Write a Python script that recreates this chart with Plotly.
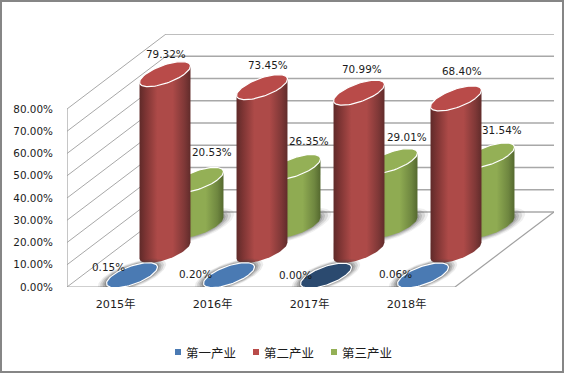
import numpy as np
import plotly.graph_objects as go

categories = ["2015年", "2016年", "2017年", "2018年"]
series_names = ["第一产业", "第二产业", "第三产业"]
primary = [0.15, 0.20, 0.00, 0.06]
secondary = [79.32, 73.45, 70.99, 68.40]
tertiary = [20.53, 26.35, 29.01, 31.54]
y_ticks = [0, 10, 20, 30, 40, 50, 60, 70, 80]
y_tick_labels = ["0.00%", "10.00%", "20.00%", "30.00%", "40.00%", "50.00%", "60.00%", "70.00%", "80.00%"]

W, H = 564, 373
L, R, T, B = 67, 10, 34, 86
PX_X, PX_Y = 97.0, 2.225          # pixels per category / per percent
DX, DY = 99 / PX_X, 75 / PX_Y     # oblique shift of the full depth
RX, RD = 0.2, 1 / 6               # disc radius along x and along depth
BASE = -0.5
FONT = "DejaVu Sans, Noto Sans CJK SC"
TXT = "#1c1c1c"


def proj(c, d, v):
    return c + d * DX, v + d * DY


def disc(cat, depth, v, s=1.0, t=None):
    t = np.linspace(0, 2 * np.pi, 90) if t is None else t
    x = cat + 0.5 + s * RX * np.cos(t) + (depth + s * RD * np.sin(t)) * DX
    y = v + BASE + (depth + s * RD * np.sin(t)) * DY
    return x, y


fig = go.Figure()


def poly(x, y, **kw):
    fig.add_trace(go.Scatter(x=list(x), y=list(y), mode="lines", fill="toself", hoverinfo="skip",
                             showlegend=False, cliponaxis=False, **kw))


def seg(pairs, color, width):
    xs, ys = [], []
    for a, b in pairs:
        xs += [a[0], b[0], None]
        ys += [a[1], b[1], None]
    fig.add_trace(go.Scatter(x=xs, y=ys, mode="lines", line=dict(color=color, width=width), hoverinfo="skip",
                             showlegend=False, cliponaxis=False))


# walls and floor
n = len(categories)
top = y_ticks[-1]
seg([(proj(n, 1, v), proj(0, 1, v)) for v in y_ticks], "#a8a8a8", 1.7)
seg([(proj(0, 0, v), proj(0, 1, v)) for v in y_ticks], "#a8a8a8", 1)
seg([(proj(0, 0, 0), proj(0, 0, top)), (proj(0, 0, 0), proj(n, 0, 0)), (proj(n, 0, 0), proj(n, 1, 0))], "#a0a0a0", 1.2)


def cylinder(cat, depth, v, cscale, top_color):
    phi = np.arctan2(RD * DX, RX)   # angle of the silhouette
    arc = np.linspace(phi + np.pi, phi + 2 * np.pi, 50)
    bx, by = disc(cat, depth, 0, t=arc)
    tx, ty = disc(cat, depth, v, t=np.array([phi, phi + np.pi]))
    x = np.concatenate([bx, tx])
    y = np.concatenate([by, ty])
    poly(x, y, line=dict(width=0, color="rgba(0,0,0,0)"),
         fillgradient=dict(type="horizontal", colorscale=cscale))
    ex, ey = disc(cat, depth, v)
    poly(ex, ey, fillcolor=top_color, line=dict(color="white", width=1.2))


RED_SCALE = [[0, "#5f2a29"], [0.12, "#7c3433"], [0.35, "#ad4a48"], [0.65, "#ad4a48"], [0.88, "#7f3837"], [1, "#612c2b"]]
GREEN_SCALE = [[0, "#5f7536"], [0.15, "#75903f"], [0.4, "#8fab52"], [0.65, "#8fab52"], [0.88, "#6f8740"], [1, "#55692f"]]

# back to front: third, second, first series
for i, v in enumerate(tertiary):
    for s, a in [(1.42, 0.08), (1.3, 0.14), (1.18, 0.18), (1.08, 0.22)]:
        hx, hy = disc(i, 5 / 6, 0, s=s)
        poly(hx, hy, fillcolor=f"rgba(70,70,70,{a})", line=dict(width=0))
    cylinder(i, 5 / 6, v, GREEN_SCALE, "#94b056")
for i, v in enumerate(secondary):
    cylinder(i, 1 / 2, v, RED_SCALE, "#b94b49")
for i, v in enumerate(primary):
    for s, a in [(1.34, 0.1), (1.25, 0.16), (1.16, 0.22), (1.08, 0.3)]:
        hx, hy = disc(i, 1 / 6, v, s=s)
        poly(hx, hy, fillcolor=f"rgba(70,70,70,{a})", line=dict(width=0))
    ex, ey = disc(i, 1 / 6, v)
    poly(ex, ey, fillcolor="#4a7ab3" if v > 0 else "#2b4a6f", line=dict(color="white", width=1.2))

# data labels
nudges = {
    0: [(-24, 8), (-34, 1), (-31, 1), (-28, 1)],
    1: [(1, 20), (6, 22), (3, 24), (6, 27)],
    2: [(14, 28), (14, 26), (15, 24), (13, 25)],
}
ann = []
for si, vals in enumerate([primary, secondary, tertiary]):
    for i, v in enumerate(vals):
        px, py = proj(i + 0.5, (2 * si + 1) / 6, v + BASE)
        ann.append(dict(x=px, y=py, xref="x", yref="y", text=f"{v:.2f}%", showarrow=False,
                        xshift=nudges[si][i][0], yshift=nudges[si][i][1],
                        font=dict(family=FONT, size=10.4, color=TXT)))

# hand-placed legend, tight as in the source
PW, PH = W - L - R, H - T - B
px2x = lambda p: (p - L) / PW
px2y = lambda p: 1 - (p - T) / PH
shapes = [dict(type="rect", xref="paper", yref="paper", x0=px2x(1), x1=px2x(W - 1), y0=px2y(1), y1=px2y(H - 1),
               line=dict(color="#868686", width=2), fillcolor="rgba(0,0,0,0)", layer="below")]
for name, color, mx in zip(series_names, ["#4a7ab3", "#b94b49", "#94b056"], [175, 253, 331]):
    shapes.append(dict(type="rect", xref="paper", yref="paper", x0=px2x(mx), x1=px2x(mx + 6), y0=px2y(349), y1=px2y(355),
                       fillcolor=color, line=dict(width=0)))
    ann.append(dict(x=px2x(mx + 11), y=px2y(352), xref="paper", yref="paper", text=name, showarrow=False,
                    xanchor="left", yanchor="middle", xshift=-2, font=dict(family="Noto Sans CJK SC", size=12.5, color=TXT)))

fig.update_layout(
    width=W, height=H, margin=dict(l=L, r=R, t=T, b=B, pad=0), showlegend=False,
    paper_bgcolor="white", plot_bgcolor="rgba(0,0,0,0)",
    xaxis=dict(range=[0, PW / PX_X], tickmode="array", tickvals=[i + 0.5 for i in range(n)], ticktext=categories,
               showgrid=False, zeroline=False, showline=False, ticks="outside", ticklen=7, tickcolor="rgba(0,0,0,0)",
               tickfont=dict(family=FONT, size=11.2, color=TXT), fixedrange=True),
    yaxis=dict(range=[0, PH / PX_Y], tickmode="array", tickvals=y_ticks, ticktext=y_tick_labels,
               showgrid=False, zeroline=False, showline=False, ticks="outside", ticklen=11, tickcolor="rgba(0,0,0,0)",
               tickfont=dict(family=FONT, size=10.4, color=TXT), fixedrange=True),
    annotations=ann, shapes=shapes,
)
fig.write_html("out.html", config={"displayModeBar": False},
               post_script="document.body.style.margin='0';document.documentElement.style.overflow='hidden';")
